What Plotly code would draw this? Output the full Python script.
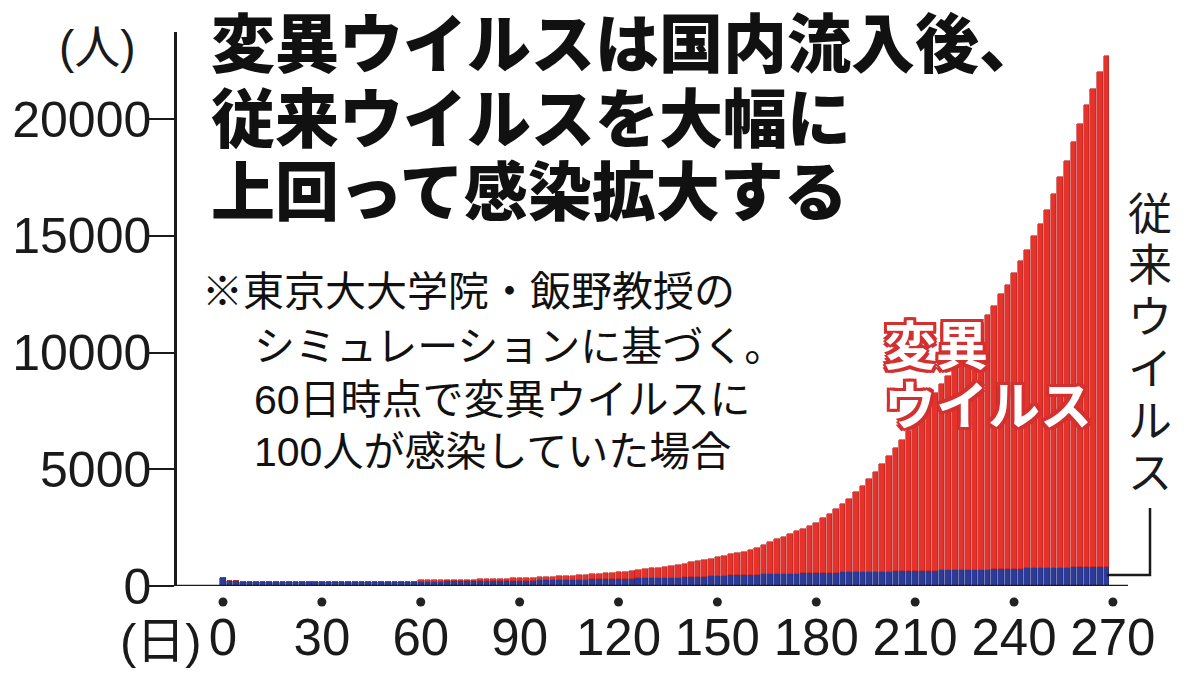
import plotly.graph_objects as go

# ---------------- data ----------------
days = list(range(0, 269, 2))  # one bar every 2 days, day 0 .. 268

conventional = [
    340, 230, 200, 190, 182, 178, 175, 172, 170, 170,
    168, 168, 167, 167, 168, 168, 169, 170, 171, 172,
    173, 174, 175, 176, 177, 178, 179, 180, 182, 184,
    186, 188, 190, 192, 194, 196, 198, 200, 202, 205,
    208, 211, 214, 217, 220, 224, 228, 232, 236, 240,
    245, 250, 256, 262, 268, 274, 280, 286, 292, 298,
    305, 312, 318, 325, 332, 340, 346, 352, 358, 364,
    372, 382, 394, 406, 420, 434, 447, 458, 467, 476,
    485, 492, 500, 507, 514, 520, 527, 534, 540, 548,
    555, 562, 568, 574, 580, 586, 592, 598, 604, 610,
    615, 620, 625, 630, 636, 642, 648, 654, 660, 665,
    670, 675, 680, 686, 692, 698, 704, 710, 716, 722,
    740, 748, 755, 762, 768, 774, 780, 786, 792, 797,
    800, 804, 807, 810, 812,
]

variant = [
    0, 0, 0, 0, 0, 0, 0, 0, 0, 0,
    0, 0, 0, 0, 0, 0, 0, 0, 0, 0,
    0, 0, 0, 0, 0, 0, 0, 0, 0, 0,
    50, 52, 55, 58, 62, 65, 68, 72, 76, 80,
    85, 90, 95, 100, 108, 115, 122, 128, 135, 142,
    150, 160, 170, 180, 192, 205, 218, 232, 246, 262,
    280, 300, 325, 352, 380, 410, 440, 470, 505, 540,
    580, 630, 670, 710, 750, 800, 850, 900, 950, 1000,
    1060, 1150, 1250, 1360, 1480, 1580, 1690, 1810, 1920, 2030,
    2150, 2340, 2530, 2730, 2940, 3160, 3440, 3700, 4000, 4290,
    4590, 4930, 5280, 5620, 6010, 6410, 6800, 7200, 7590, 7990,
    8330, 8830, 9320, 9710, 10110, 10500, 10900, 11290, 11780, 12180,
    12660, 13150, 13650, 14240, 14730, 15330, 16020, 16710, 17410, 18200,
    19000, 19800, 20490, 21190, 21890,
]

x_ticks = [0, 30, 60, 90, 120, 150, 180, 210, 240, 270]
x_tick_text = ["0", "30", "60", "90", "120", "150", "180", "210", "240", "270"]
y_ticks = [0, 5000, 10000, 15000, 20000]
y_tick_text = ["0", "5000", "10000", "15000", "20000"]

title_lines = ["変異ウイルスは国内流入後、", "従来ウイルスを大幅に", "上回って感染拡大する"]
note_lines = ["※東京大大学院・飯野教授の", "シミュレーションに基づく。",
              "60日時点で変異ウイルスに", "100人が感染していた場合"]
variant_label = ["変異", "ウイルス"]
conventional_label = "従来ウイルス"

# ---------------- layout geometry (page pixels) ----------------
OFF = 8                      # default page margin of the html body
W, H = 1200 - OFF, 685 - OFF
L, R, T, B = 177, 1200, 32, 586
DAY0_PX, PX_PER_DAY = 223, 3.296
PX_PER_1000 = 23.35

x_range = [(L - DAY0_PX) / PX_PER_DAY, (R - DAY0_PX) / PX_PER_DAY]
y_range = [0, (B - T) / PX_PER_1000 * 1000]


def px(x):
    return (x - L) / (R - L)


def py(y):
    return (B - y) / (B - T)


RED = "#e5322b"
BLUE = "#2c3a98"
INK = "#1a1a1a"
JP = "Liberation Sans, Noto Sans CJK JP"
NUM = "Liberation Sans"

fig = go.Figure()
fig.add_trace(go.Bar(x=days, y=conventional, name="従来ウイルス",
                     marker=dict(color=BLUE, line=dict(color="#1f2a78", width=0.6)),
                     width=1.7))
fig.add_trace(go.Bar(x=days, y=variant, name="変異ウイルス",
                     marker=dict(color=RED, line=dict(color="#b92320", width=0.6)),
                     width=1.7))


def label(text, x, y, size, xanchor="left", **font):
    return dict(text=text, x=px(x), y=py(y), xref="paper", yref="paper",
                xanchor=xanchor, yanchor="middle", showarrow=False,
                font=dict(family=JP, size=size, **font))


annotations = []
# title
for line, cy in zip(title_lines, [45, 120, 193]):
    annotations.append(label(line, 209, cy, 64, color="#111", weight=900))
# note
for line, lx, cy in zip(note_lines, [200, 252, 252, 252], [292, 347, 400, 452]):
    annotations.append(label(line, lx, cy, 41, color="#111"))
# variant label (white, red outline)
shadow = ", ".join(f"{dx}px {dy}px 0 #d3302f" for dx in (-3, 0, 3) for dy in (-3, 0, 3))
for line, cy in zip(variant_label, [347, 407]):
    annotations.append(label(line, 882, cy, 52, color="white", weight=700,
                             shadow=shadow))
# conventional label (vertical, one character per line)
for k, ch in enumerate(conventional_label):
    annotations.append(label(ch, 1150, 214 + 51.8 * k, 44, xanchor="center", color=INK))
# units
annotations.append(label("(人)", 97, 47, 46, xanchor="center", color=INK))
annotations.append(label("(日)", 204, 641, 49, xanchor="right", color=INK))

shapes = [
    # baseline
    dict(type="line", xref="paper", yref="y", x0=0, x1=px(1128), y0=0, y1=0,
         line=dict(color=INK, width=2.5)),
    # bracket for conventional virus
    dict(type="path", xref="paper", yref="paper",
         path=f"M {px(1107)},{py(575)} L {px(1150)},{py(575)} L {px(1150)},{py(508)}",
         line=dict(color=INK, width=2.5)),
]
# tick dots under the axis
for d in x_ticks:
    shapes.append(dict(type="circle", xref="x", yref="paper", xsizemode="pixel",
                       ysizemode="pixel", xanchor=d, yanchor=py(602),
                       x0=-4.5, x1=4.5, y0=-4.5, y1=4.5,
                       fillcolor="#222", line=dict(width=0)))

fig.update_layout(
    width=W, height=H,
    margin=dict(l=L - OFF, r=0, t=T - OFF, b=(685 - B), autoexpand=False),
    paper_bgcolor="white", plot_bgcolor="white",
    barmode="stack", bargap=0, showlegend=False,
    annotations=annotations, shapes=shapes,
    xaxis=dict(range=x_range, showgrid=False, zeroline=False, showline=False,
               automargin=False,
               tickmode="array", tickvals=x_ticks, ticktext=x_tick_text, ticks="",
               ticklabelstandoff=17,
               tickfont=dict(family=NUM, size=51, color=INK)),
    yaxis=dict(range=y_range, showgrid=False, zeroline=False, showline=True,
               automargin=False,
               linecolor=INK, linewidth=2.5, ticks="outside", ticklen=27,
               tickwidth=2, tickcolor=INK, tickmode="array", tickvals=y_ticks,
               ticktext=y_tick_text, ticklabelstandoff=-14,
               tickfont=dict(family=NUM, size=50, color=INK)),
)

fig.write_html("out.html")
